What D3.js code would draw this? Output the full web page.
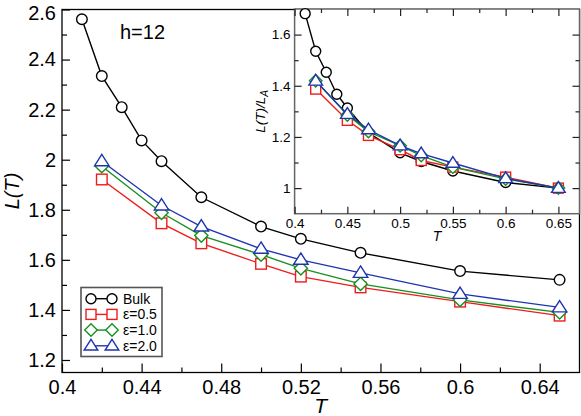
<!DOCTYPE html>
<html><head><meta charset="utf-8">
<script src="https://cdn.jsdelivr.net/npm/d3@7"></script>
<style>body{margin:0;background:#fff;} svg{display:block;font-family:"Liberation Sans",Arial,sans-serif;}</style>
</head><body>
<svg id="c" width="581" height="416"></svg>
<script>
// ---- data ----
const temps = [0.41, 0.42, 0.43, 0.44, 0.45, 0.47, 0.50, 0.52, 0.55, 0.60, 0.65];
const tempsEps = [0.42, 0.45, 0.47, 0.50, 0.52, 0.55, 0.60, 0.65];
const bulkL = [2.561, 2.334, 2.21, 2.077, 1.994, 1.85, 1.733, 1.684, 1.628, 1.555, 1.52];
const eps05L = [1.921, 1.746, 1.666, 1.584, 1.533, 1.49, 1.433, 1.377];
const eps10L = [1.974, 1.788, 1.697, 1.621, 1.566, 1.504, 1.44, 1.39];
const eps20L = [1.994, 1.817, 1.733, 1.644, 1.60, 1.548, 1.464, 1.41];
const bulkR = [1.682, 1.535, 1.453, 1.367, 1.313, 1.216, 1.138, 1.104, 1.067, 1.022, 1.0];
const eps05R = [1.387, 1.265, 1.206, 1.150, 1.108, 1.082, 1.043, 1.0];
const eps10R = [1.42, 1.286, 1.221, 1.166, 1.127, 1.082, 1.036, 1.0];
const eps20R = [1.419, 1.289, 1.229, 1.166, 1.135, 1.098, 1.038, 1.0];
const seriesNames = ["Bulk", "ε=0.5", "ε=1.0", "ε=2.0"];
const mainXTicks = [0.4, 0.44, 0.48, 0.52, 0.56, 0.6, 0.64];
const mainYTicks = [1.2, 1.4, 1.6, 1.8, 2, 2.2, 2.4, 2.6];
const insetXTicks = [0.4, 0.45, 0.5, 0.55, 0.6, 0.65];
const insetYTicks = [1, 1.2, 1.4, 1.6];

const colors = ["#000000", "#ee1c1c", "#17901f", "#1f35b0"];
const shapes = ["circle", "square", "diamond", "triangle"];

const svg = d3.select("#c");

function marker(g, shape, x, y, color, s) {
  let el;
  if (shape === "circle") {
    el = g.append("circle").attr("cx", x).attr("cy", y).attr("r", s);
  } else if (shape === "square") {
    el = g.append("rect").attr("x", x - s).attr("y", y - s).attr("width", 2 * s).attr("height", 2 * s);
  } else if (shape === "diamond") {
    const d = s * 1.25;
    el = g.append("path").attr("d", `M${x},${y - d}L${x + d},${y}L${x},${y + d}L${x - d},${y}Z`);
  } else {
    const d = s * 1.3;
    el = g.append("path").attr("d", `M${x},${y - d}L${x + d * 1.05},${y + d * 0.65}L${x - d * 1.05},${y + d * 0.65}Z`);
  }
  el.attr("fill", "#fff").attr("stroke", color).attr("stroke-width", 1.4);
}

function drawSeries(g, xs, ys, x, y, color, shape, s) {
  const line = d3.line().x((d, i) => x(xs[i])).y(d => y(d));
  g.append("path").datum(ys).attr("d", line).attr("fill", "none").attr("stroke", color).attr("stroke-width", 1.4);
  ys.forEach((v, i) => marker(g, shape, x(xs[i]), y(v), color, s));
}

// ---- main plot ----
const M = {l: 62, r: 579.5, t: 9.5, b: 372.5};
const x = d3.scaleLinear().domain([0.4, 0.66]).range([M.l, M.r]);
const y = d3.scaleLinear().domain([1.15, 2.6]).range([M.b, M.t]);

const main = svg.append("g");
main.append("rect").attr("x", M.l).attr("y", M.t).attr("width", M.r - M.l).attr("height", M.b - M.t)
  .attr("fill", "none").attr("stroke", "#000").attr("stroke-width", 1.3);

// minor ticks
const xMinor = [0.42, 0.46, 0.50, 0.54, 0.58, 0.62];
const yMinor = [1.3, 1.5, 1.7, 1.9, 2.1, 2.3, 2.5];
const xAxis = d3.axisBottom(x).tickValues(mainXTicks).tickSize(-9).tickPadding(7).tickFormat(d3.format("~g"));
const gx = main.append("g").attr("transform", `translate(0,${M.b})`).call(xAxis);
main.append("g").attr("transform", `translate(0,${M.b})`).call(d3.axisBottom(x).tickValues(xMinor).tickSize(-5).tickFormat(""));
const yAxis = d3.axisLeft(y).tickValues(mainYTicks).tickSize(-8).tickPadding(6).tickFormat(d3.format("~g"));
const gy = main.append("g").attr("transform", `translate(${M.l},0)`).call(yAxis);
main.append("g").attr("transform", `translate(${M.l},0)`).call(d3.axisLeft(y).tickValues(yMinor).tickSize(-5).tickFormat(""));
main.selectAll(".domain").remove();
main.selectAll(".tick line").attr("stroke", "#000").attr("stroke-width", 1.2);
gx.selectAll("text").attr("font-size", 20).attr("fill", "#000");
gy.selectAll("text").attr("font-size", 20).attr("fill", "#000");
gy.selectAll("text").filter(d => d === 2.6).attr("dy", "0.5em");

const dataMain = [[temps, bulkL], [tempsEps, eps05L], [tempsEps, eps10L], [tempsEps, eps20L]];
dataMain.forEach((d, i) => drawSeries(main, d[0], d[1], x, y, colors[i], shapes[i], 5.3));

main.append("text").attr("x", 120).attr("y", 38.5).attr("font-size", 20).text("h=12");
main.append("text").attr("x", (M.l + M.r) / 2).attr("y", 413).attr("text-anchor", "middle")
  .attr("font-size", 21).attr("font-style", "italic").text("T");
main.append("text").attr("transform", `translate(19,${(M.t + M.b) / 2}) rotate(-90)`).attr("text-anchor", "middle")
  .attr("font-size", 20).attr("font-style", "italic").text("L(T)");

// legend
const lg = main.append("g");
lg.append("rect").attr("x", 81).attr("y", 287.5).attr("width", 81).attr("height", 69)
  .attr("fill", "#fff").attr("stroke", "#555").attr("stroke-width", 1.6);
seriesNames.forEach((n, i) => {
  const yy = 298.7 + i * 15.7;
  lg.append("line").attr("x1", 91).attr("x2", 112).attr("y1", yy).attr("y2", yy).attr("stroke", colors[i]).attr("stroke-width", 1.4);
  marker(lg, shapes[i], 91, yy, colors[i], 5);
  marker(lg, shapes[i], 112, yy, colors[i], 5);
  lg.append("text").attr("x", 123).attr("y", yy + 5).attr("font-size", 14).text(n);
});

// ---- inset ----
const I = {l: 294.6, r: 579.5, t: 9, b: 213.7};
const xi = d3.scaleLinear().domain([0.4, 0.67]).range([I.l, I.r]);
const yi = d3.scaleLinear().domain([0.9, 1.7]).range([I.b, I.t]);
const inset = svg.append("g");
inset.append("rect").attr("x", I.l).attr("y", I.t).attr("width", I.r - I.l).attr("height", I.b - I.t)
  .attr("fill", "#fff").attr("stroke", "#666").attr("stroke-width", 1.5);

const xiMinor = [0.425, 0.475, 0.525, 0.575, 0.625];
const yiMinorVals = [1.1, 1.3, 1.5];
const gxi = inset.append("g").attr("transform", `translate(0,${I.b})`)
  .call(d3.axisBottom(xi).tickValues(insetXTicks).tickSize(-7).tickPadding(5).tickFormat(d3.format("~g")));
inset.append("g").attr("transform", `translate(0,${I.b})`).call(d3.axisBottom(xi).tickValues(xiMinor).tickSize(-4).tickFormat(""));
inset.append("g").attr("transform", `translate(0,${I.t})`).call(d3.axisTop(xi).tickValues(insetXTicks).tickSize(-7).tickFormat(""));
inset.append("g").attr("transform", `translate(0,${I.t})`).call(d3.axisTop(xi).tickValues(xiMinor).tickSize(-4).tickFormat(""));
const gyi = inset.append("g").attr("transform", `translate(${I.l},0)`)
  .call(d3.axisLeft(yi).tickValues(insetYTicks).tickSize(-7).tickPadding(4).tickFormat(d3.format("~g")));
inset.append("g").attr("transform", `translate(${I.l},0)`).call(d3.axisLeft(yi).tickValues(yiMinorVals).tickSize(-4).tickFormat(""));
inset.append("g").attr("transform", `translate(${I.r},0)`).call(d3.axisRight(yi).tickValues(insetYTicks).tickSize(-7).tickFormat(""));
inset.append("g").attr("transform", `translate(${I.r},0)`).call(d3.axisRight(yi).tickValues(yiMinorVals).tickSize(-4).tickFormat(""));
inset.selectAll(".domain").remove();
inset.selectAll(".tick line").attr("stroke", "#222").attr("stroke-width", 1.2);
gxi.selectAll("text").attr("font-size", 13.5).attr("fill", "#000");
gyi.selectAll("text").attr("font-size", 13.5).attr("fill", "#000");

const dataInset = [[temps, bulkR], [tempsEps, eps05R], [tempsEps, eps10R], [tempsEps, eps20R]];
dataInset.forEach((d, i) => drawSeries(inset, d[0], d[1], xi, yi, colors[i], shapes[i], 5));

inset.append("text").attr("x", (I.l + I.r) / 2).attr("y", 241).attr("text-anchor", "middle")
  .attr("font-size", 14).attr("font-style", "italic").text("T");
const yt = inset.append("text").attr("transform", `translate(265,${(I.t + I.b) / 2}) rotate(-90)`).attr("text-anchor", "middle")
  .attr("font-size", 13.5).attr("font-style", "italic");
yt.append("tspan").text("L(T)/L");
yt.append("tspan").attr("font-size", 10).attr("dy", 3).text("A");
</script>
</body></html>
